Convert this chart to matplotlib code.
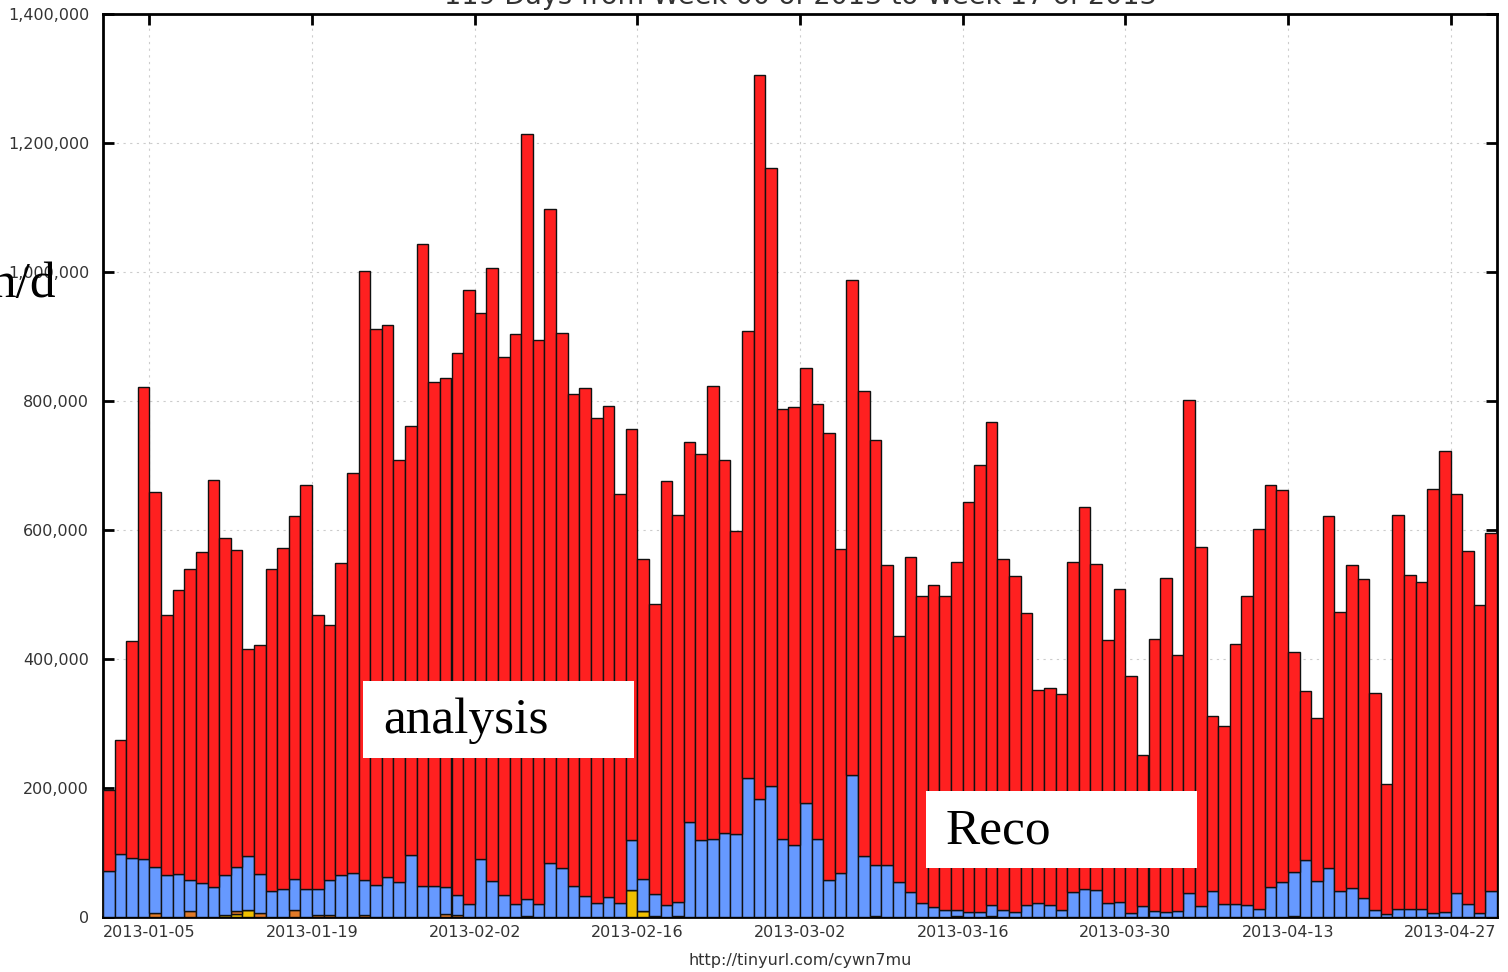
import datetime as dt

import matplotlib
matplotlib.use("Agg")
import matplotlib.pyplot as plt
import matplotlib.dates as mdates
import numpy as np
from matplotlib.patches import Rectangle
from matplotlib.ticker import FuncFormatter, MultipleLocator

# daily completed jobs, one value per day starting 2013-01-01 (units: thousands)
start_day = dt.date(2013, 1, 1)
n_days = 120

daily_total = [
    197, 274, 428, 822, 659, 468, 507,
    539, 566, 677, 587, 569, 416, 421,
    539, 572, 622, 670, 468, 453, 549,
    689, 1002, 912, 918, 709, 762, 1044,
    829, 836, 874, 972, 936, 1006, 868,
    904, 1214, 894, 1097, 906, 811, 820,
    773, 793, 656, 756, 555, 486, 676,
    623, 736, 718, 823, 709, 598, 908,
    1306, 1161, 788, 791, 851, 796, 751,
    571, 987, 816, 739, 545, 435, 558,
    498, 515, 498, 551, 643, 701, 767,
    555, 528, 471, 352, 355, 345, 551,
    636, 548, 429, 509, 374, 251, 431,
    526, 406, 802, 574, 311, 296, 423,
    497, 602, 670, 662, 411, 350, 308,
    621, 473, 545, 524, 347, 206, 624,
    530, 519, 663, 722, 656, 567, 483,
    595,
]

reco = [
    71, 97, 92, 90, 71, 65, 67,
    48, 52, 47, 62, 68, 84, 61,
    40, 43, 48, 43, 41, 54, 65,
    68, 55, 50, 62, 54, 96, 48,
    48, 42, 31, 20, 90, 56, 34,
    20, 26, 20, 84, 76, 48, 33,
    21, 31, 21, 77, 50, 34, 19,
    22, 147, 119, 121, 130, 128, 216,
    183, 203, 121, 111, 176, 121, 58,
    68, 220, 95, 79, 81, 54, 38,
    21, 16, 11, 9, 8, 7, 17,
    11, 7, 19, 21, 19, 11, 38,
    44, 42, 22, 24, 6, 17, 9,
    8, 9, 37, 17, 40, 20, 20,
    18, 12, 47, 54, 68, 89, 56,
    76, 40, 45, 30, 11, 5, 12,
    12, 12, 6, 7, 37, 20, 6,
    40,
]

# the two small activity types only show up on a handful of days
orange_days = {4: 6, 7: 9, 11: 4, 13: 6, 16: 11, 18: 3, 19: 3, 22: 3, 29: 4,
               30: 3, 36: 2, 49: 2, 66: 2, 73: 2, 102: 2}
yellow_days = {10: 3, 11: 5, 12: 11, 45: 42, 46: 9, 47: 2, 76: 2}

yellow = [yellow_days.get(i, 0) for i in range(n_days)]
orange = [orange_days.get(i, 0) for i in range(n_days)]

days = [start_day + dt.timedelta(days=i) for i in range(n_days)]
x = mdates.date2num(days)

total = np.array(daily_total) * 1000.0
ylw = np.array(yellow) * 1000.0
org = np.array(orange) * 1000.0
blu = np.array(reco) * 1000.0
red = total - ylw - org - blu

fig = plt.figure(figsize=(15.08, 9.72), dpi=100)
ax = fig.add_axes([103 / 1508, 1 - 917 / 972, 1394 / 1508, 903 / 972])

bar_kw = dict(width=1.0, align="edge", edgecolor="#111111", linewidth=1.0, zorder=3)
bottom = np.zeros(n_days)
for vals, col in [(ylw, "#f0c000"), (org, "#e07a28"), (blu, "#6699ff"), (red, "#ff2020")]:
    ax.bar(x, vals, bottom=bottom, color=col, **bar_kw)
    bottom = bottom + vals

ax.set_xlim(mdates.date2num(start_day), mdates.date2num(start_day + dt.timedelta(days=n_days)))
ax.set_ylim(0, 1400000)

tick_days = [start_day + dt.timedelta(days=4 + 14 * k) for k in range(9)]
ax.set_xticks(mdates.date2num(tick_days))
ax.xaxis.set_major_formatter(mdates.DateFormatter("%Y-%m-%d"))
ax.yaxis.set_major_locator(MultipleLocator(200000))
ax.yaxis.set_major_formatter(FuncFormatter(lambda v, p: f"{int(v):,}"))

ax.tick_params(direction="in", length=8, width=2, top=True, right=True,
               labelsize=11.5, labelcolor="#333333")
ax.tick_params(axis="y", pad=10)
ax.tick_params(axis="x", pad=6)
for s in ax.spines.values():
    s.set_linewidth(2)
ax.grid(True, color="#cccccc", linestyle=(0, (2, 4)), linewidth=0.8, zorder=0)

fig.text(800 / 1508, 1 + 3 / 972, "119 Days from Week 00 of 2013 to Week 17 of 2013",
         ha="center", va="center", fontsize=19.5, color="#333333")
fig.text(800 / 1508, 1 - 960 / 972, "http://tinyurl.com/cywn7mu",
         ha="center", va="center", fontsize=11.5, color="#333333")

# slide labels
for x0, y0, label in [(363, 758, "analysis"), (926, 868, "Reco")]:
    fig.patches.append(Rectangle((x0 / 1508, 1 - y0 / 972), 271 / 1508, 77 / 972,
                                 transform=fig.transFigure, facecolor="white",
                                 edgecolor="none", zorder=5))
    fig.text((x0 + 20) / 1508, 1 - (y0 - 37) / 972, label, ha="left", va="center",
             fontsize=37, family="Liberation Serif", zorder=6)

fig.text(56 / 1508, 1 - 297 / 972, "n/d", ha="right", va="baseline",
         fontsize=37, family="Liberation Serif", zorder=6)

fig.savefig("out.png", dpi=100)
